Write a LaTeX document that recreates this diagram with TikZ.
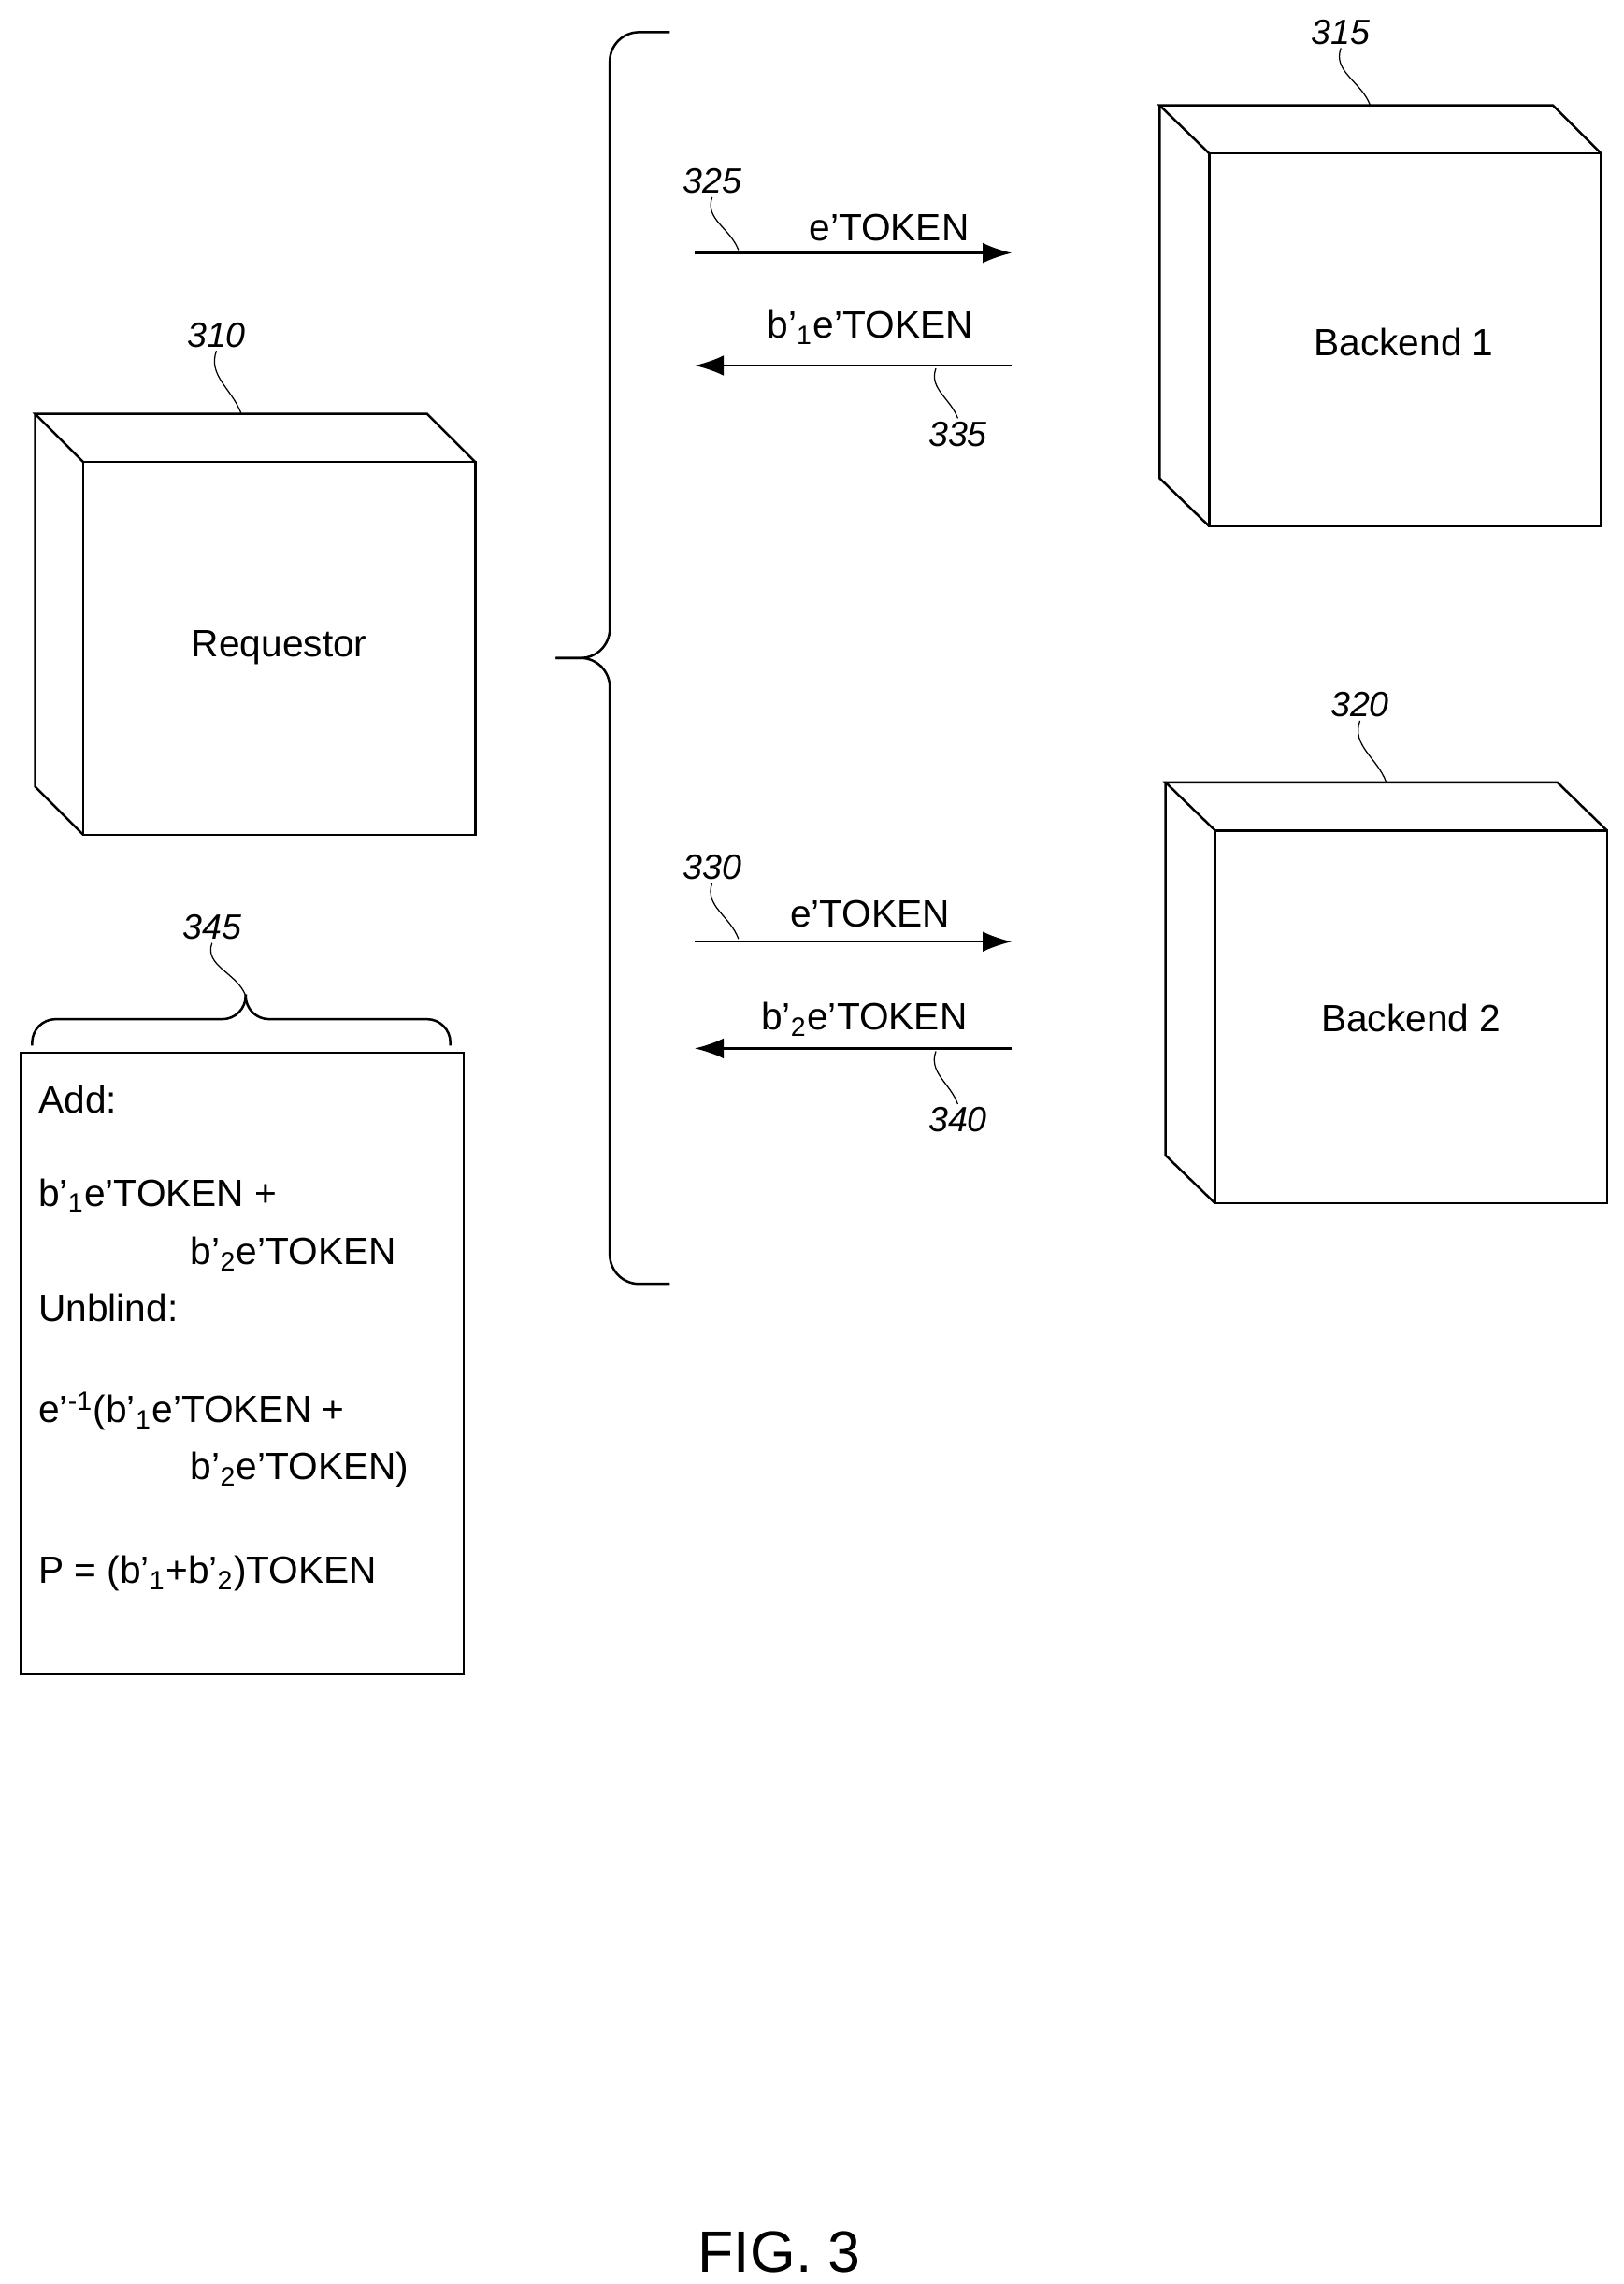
\documentclass[tikz,border=0pt]{standalone}
\usepackage{fontspec}
\setmainfont{Liberation Sans}
\usetikzlibrary{arrows.meta,positioning}

\begin{document}
\begin{tikzpicture}[
    x=0.5pt, y=-0.5pt,
    % Styles
    boxline/.style={draw, thick, line join=miter},
    braceline/.style={draw, thick, rounded corners=10pt},
    msgline/.style={draw, thick, -{Latex[length=10pt,width=7pt]}},
    refnum/.style={font=\fontsize{12}{14}\selectfont\itshape, inner sep=1pt},
    leader/.style={draw, thin},
    memo/.style={font=\fontsize{13}{15}\selectfont, anchor=base west, inner sep=0pt},
    lbl/.style={font=\fontsize{13}{15}\selectfont, inner sep=1pt}
]
\useasboundingbox (0,0) rectangle (1110,1562);
\newcommand{\pr}{’}

% Requestor block
\draw[boxline] (57,316) rectangle (325,571);
\draw[boxline] (57,316) -- (24,283) -- (292,283) -- (325,316);
\draw[boxline] (24,283) -- (24,538) -- (57,571);
\node[lbl] (requestor) at (191,443) {Requestor};

% Backend 1 block
\draw[boxline] (827,105) rectangle (1095,360);
\draw[boxline] (827,105) -- (793,72) -- (1062,72) -- (1095,105);
\draw[boxline] (793,72) -- (793,327) -- (827,360);
\node[lbl] (backend1) at (960,234) {Backend 1};

% Backend 2 block
\draw[boxline] (831,568) rectangle (1099,823);
\draw[boxline] (831,568) -- (797,535) -- (1065,535) -- (1099,568);
\draw[boxline] (797,535) -- (797,790) -- (831,823);
\node[lbl] (backend2) at (965,696) {Backend 2};

% Memo box
\draw[boxline] (14,720) rectangle (317,1145);
\draw[braceline, rounded corners=8pt] (22,715) |- (168,697) -- (168,680);
\draw[braceline, rounded corners=8pt] (308,715) |- (168,697) -- (168,680);
\node[memo] (add) at (26,761) {Add:};
\node[memo] (sum1) at (26,825) {b\pr\textsubscript{1}e\pr TOKEN +};
\node[memo] (sum2) at (130,865) {b\pr\textsubscript{2}e\pr TOKEN};
\node[memo] (unblind) at (26,904) {Unblind:};
\node[memo] (inv1) at (26,973) {e\pr\textsuperscript{-1}(b\pr\textsubscript{1}e\pr TOKEN +};
\node[memo] (inv2) at (130,1012) {b\pr\textsubscript{2}e\pr TOKEN)};
\node[memo] (result) at (26,1083) {P = (b\pr\textsubscript{1}+b\pr\textsubscript{2})TOKEN};

% Big brace
\draw[braceline] (458,22) -| (417,450) -- (380,450);
\draw[braceline] (458,878) -| (417,450) -- (380,450);

% Messages
\coordinate (m1s) at (475,173);  \coordinate (m1e) at (692,173);
\coordinate (m2s) at (692,250);  \coordinate (m2e) at (475,250);
\coordinate (m3s) at (475,644);  \coordinate (m3e) at (692,644);
\coordinate (m4s) at (692,717);  \coordinate (m4e) at (475,717);
\draw[msgline] (m1s) -- (m1e);
\draw[msgline] (m2s) -- (m2e);
\draw[msgline] (m3s) -- (m3e);
\draw[msgline] (m4s) -- (m4e);
\node[lbl] (msg1) at (608,156) {e\pr TOKEN};
\node[lbl] (msg2) at (595,224) {b\pr\textsubscript{1}e\pr TOKEN};
\node[lbl] (msg3) at (595,625) {e\pr TOKEN};
\node[lbl] (msg4) at (591,697) {b\pr\textsubscript{2}e\pr TOKEN};

% Reference numerals
\node[refnum] (r310) at (148,229) {310};
\node[refnum] (r315) at (917,22) {315};
\node[refnum] (r320) at (930,482) {320};
\node[refnum] (r325) at (487,124) {325};
\node[refnum] (r330) at (487,593) {330};
\node[refnum] (r335) at (655,297) {335};
\node[refnum] (r340) at (655,766) {340};
\node[refnum] (r345) at (145,634) {345};

\draw[leader] (r310.south) to[out=-110, in=110] (165,283);
\draw[leader] (r315.south) to[out=-110, in=110] (937,72);
\draw[leader] (r320.south) to[out=-110, in=110] (948,535);
\draw[leader] (r325.south) to[out=-110, in=110] (505,171);
\draw[leader] (r330.south) to[out=-110, in=110] (505,642);
\draw[leader] (r335.north) to[out=110, in=-110] (640,252);
\draw[leader] (r340.north) to[out=110, in=-110] (640,719);
\draw[leader] (r345.south) to[out=-110, in=110] (168,681);

\node[font=\fontsize{20}{24}\selectfont] (fig) at (533,1540) {FIG. 3};
\end{tikzpicture}
\end{document}
